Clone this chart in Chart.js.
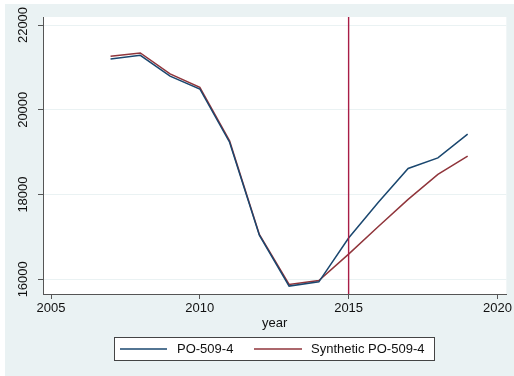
<!DOCTYPE html>
<html>
<head>
<meta charset="utf-8">
<script src="https://cdn.jsdelivr.net/npm/chart.js@4/dist/chart.umd.min.js"></script>
<style>
  html, body { margin: 0; padding: 0; background: #ffffff; }
  #wrap { position: relative; width: 514px; height: 376px; }
  canvas { display: block; }
</style>
</head>
<body>
<div id="wrap"><canvas id="c" width="514" height="376"></canvas></div>
<script>
// Annual series, 2007-2019
const years = [2007, 2008, 2009, 2010, 2011, 2012, 2013, 2014, 2015, 2016, 2017, 2018, 2019];
const treated = [21200, 21285, 20795, 20490, 19235, 17040, 15840, 15940, 16975, 17820, 18615, 18865, 19425];
const synthetic = [21265, 21340, 20845, 20530, 19265, 17060, 15880, 15970, 16595, 17245, 17885, 18475, 18905];
const seriesNames = ['PO-509-4', 'Synthetic PO-509-4'];
const xTicks = [2005, 2010, 2015, 2020];
const yTicks = [16000, 18000, 20000, 22000];
const interventionYear = 2015;

const FONT = '"Liberation Sans", Arial, Helvetica, sans-serif';
const BG = '#eaf2f3';
const AXIS = '#555555';

const pts = (vals) => years.map((y, i) => ({ x: y, y: vals[i] }));

// Outer graph region with a thin white margin on the top and left
const backdrop = {
  id: 'backdrop',
  beforeDraw(chart) {
    const { ctx, chartArea: a } = chart;
    ctx.save();
    ctx.fillStyle = '#ffffff';
    ctx.fillRect(0, 0, chart.width, chart.height);
    ctx.fillStyle = BG;
    ctx.fillRect(5, 4, chart.width - 5, chart.height - 4);
    ctx.fillStyle = '#ffffff';
    ctx.fillRect(a.left, a.top, a.right - a.left, a.bottom - a.top);
    ctx.restore();
  }
};

// Vertical reference line at the intervention year
const refLine = {
  id: 'refLine',
  afterDatasetsDraw(chart) {
    const { ctx, chartArea: a, scales } = chart;
    const x = scales.x.getPixelForValue(interventionYear);
    ctx.save();
    ctx.strokeStyle = '#a81d46';
    ctx.lineWidth = 1.4;
    ctx.beginPath();
    ctx.moveTo(x, a.top);
    ctx.lineTo(x, a.bottom);
    ctx.stroke();
    ctx.restore();
  }
};

// Y tick labels written vertically, centred on each tick
const yLabels = {
  id: 'yLabels',
  afterDraw(chart) {
    const { ctx, scales } = chart;
    ctx.save();
    ctx.fillStyle = '#111111';
    ctx.font = '13px ' + FONT;
    ctx.textAlign = 'center';
    ctx.textBaseline = 'middle';
    scales.y.ticks.forEach(t => {
      const y = scales.y.getPixelForValue(t.value);
      ctx.save();
      ctx.translate(23, y);
      ctx.rotate(-Math.PI / 2);
      ctx.fillText(String(t.value), 0, 0);
      ctx.restore();
    });
    ctx.restore();
  }
};

// Boxed legend below the axis title
const boxLegend = {
  id: 'boxLegend',
  afterDraw(chart) {
    const { ctx } = chart;
    const left = 114, top = 337, right = 435, bottom = 361;
    ctx.save();
    ctx.fillStyle = '#ffffff';
    ctx.fillRect(left, top, right - left, bottom - top);
    ctx.strokeStyle = '#444444';
    ctx.lineWidth = 1;
    ctx.strokeRect(left + 0.5, top + 0.5, right - left - 1, bottom - top - 1);
    const cy = (top + bottom) / 2;
    const items = [
      { x0: 120, x1: 167, tx: 177 },
      { x0: 254, x1: 302, tx: 311 }
    ];
    ctx.font = '13px ' + FONT;
    ctx.textBaseline = 'middle';
    ctx.textAlign = 'left';
    chart.data.datasets.forEach((ds, i) => {
      const it = items[i];
      ctx.strokeStyle = ds.borderColor;
      ctx.lineWidth = ds.borderWidth;
      ctx.beginPath();
      ctx.moveTo(it.x0, cy);
      ctx.lineTo(it.x1, cy);
      ctx.stroke();
      ctx.fillStyle = '#111111';
      ctx.fillText(ds.label, it.tx, cy + 0.5);
    });
    ctx.restore();
  }
};

new Chart(document.getElementById('c'), {
  type: 'line',
  data: {
    datasets: [
      { label: seriesNames[0], data: pts(treated), borderColor: '#1a476f', borderWidth: 1.5, pointRadius: 0, tension: 0, fill: false },
      { label: seriesNames[1], data: pts(synthetic), borderColor: '#90353b', borderWidth: 1.5, pointRadius: 0, tension: 0, fill: false }
    ]
  },
  options: {
    responsive: false,
    animation: false,
    events: [],
    layout: { padding: { left: 0, right: 7, top: 17, bottom: 42 } },
    plugins: {
      legend: { display: false },
      tooltip: { enabled: false }
    },
    scales: {
      x: {
        type: 'linear',
        min: 2004.73,
        max: 2020.3,
        afterBuildTicks(scale) { scale.ticks = xTicks.map(v => ({ value: v })); },
        afterFit(scale) { scale.height = 40; },
        border: { color: AXIS, width: 1 },
        grid: { drawOnChartArea: false, tickLength: 5, tickColor: AXIS },
        ticks: {
          color: '#111111',
          font: { family: FONT, size: 13 },
          padding: 2,
          maxRotation: 0,
          callback: v => String(v)
        },
        title: {
          display: true,
          text: 'year',
          color: '#111111',
          font: { family: FONT, size: 13 },
          padding: { top: 0, bottom: 3 }
        }
      },
      y: {
        type: 'linear',
        min: 15653,
        max: 22189,
        afterBuildTicks(scale) { scale.ticks = yTicks.map(v => ({ value: v })); },
        afterFit(scale) { scale.width = 43; },
        border: { color: AXIS, width: 1 },
        grid: { color: BG, lineWidth: 1, tickLength: 5, tickColor: AXIS },
        ticks: { display: false }
      }
    }
  },
  plugins: [backdrop, refLine, yLabels, boxLegend]
});
</script>
</body>
</html>
